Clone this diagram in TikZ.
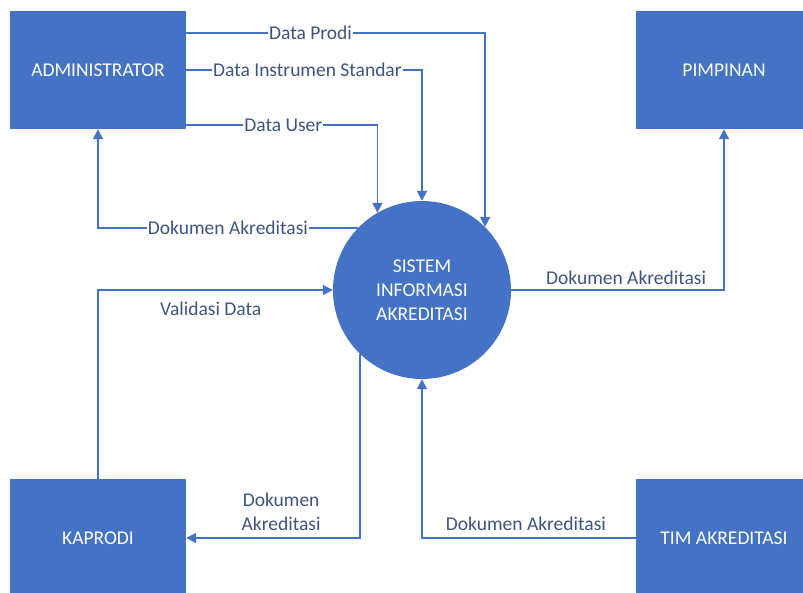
\documentclass[tikz,border=0pt]{standalone}
\usepackage{fontspec}
\setmainfont{Carlito}
\usepackage{tikz}
\usetikzlibrary{arrows.meta,positioning}
\definecolor{ofblue}{RGB}{68,114,196}
\definecolor{lbl}{RGB}{62,84,128}
\tikzset{
  >={Triangle[length=10pt,width=10pt]},
  ent/.style ={fill=ofblue, minimum width=176pt, minimum height=118pt, inner sep=0pt,
               text=white, font=\fontsize{19.5}{23}\selectfont},
  proc/.style={circle, fill=ofblue, minimum size=178pt, inner sep=0pt, align=center,
               text=white, font=\fontsize{19.5}{24}\selectfont},
  flow/.style={->, draw=ofblue, line width=1.8pt},
  lb/.style  ={fill=white, inner sep=1pt, text=lbl, font=\fontsize{19.5}{24}\selectfont}
}

\begin{document}
\begin{tikzpicture}[x=1pt, y=-1pt]
\useasboundingbox (0,0) rectangle (803,592);
\clip (0,0) rectangle (803,592);
\node[ent] (adm) at (98,70)  {ADMINISTRATOR};
\node[ent] (pim) at (724,70) {PIMPINAN};
\node[ent] (kap) at (98,538) {KAPRODI};
\node[ent] (tim) at (724,538) {TIM AKREDITASI};
\node[proc] (sia) at (422,290) {SISTEM\\INFORMASI\\AKREDITASI};
% administrator to system
\draw[flow] ([yshift=-22pt]adm.north east) -| node[lb, pos=0.208]{Data Prodi} (sia.45);
\draw[flow] (adm.east) -| node[lb, pos=0.257]{Data Instrumen Standar} (sia.north);
\draw[flow] ([yshift=4pt]adm.south east) -| node[lb, pos=0.254]{Data User} (sia.120);
\draw[flow] (sia.136) -| node[lb, pos=0.25]{Dokumen Akreditasi} (adm.south);
% pimpinan
\draw[flow] (sia.east) -| node[lb, fill=none, above=3pt, pos=0.27]{Dokumen Akreditasi} (pim.south);
% kaprodi
\draw[flow] (kap.north) |- node[lb, fill=none, below=10pt, pos=0.74]{Validasi Data} (sia.west);
\draw[flow] (sia.226) |- node[lb, fill=none, above=5pt, pos=0.727, align=center]{Dokumen\\Akreditasi} (kap.east);
% tim akreditasi
\draw[flow] (tim.west) -| node[lb, fill=none, above=5pt, pos=0.257]{Dokumen Akreditasi} (sia.south);
\end{tikzpicture}
\end{document}
